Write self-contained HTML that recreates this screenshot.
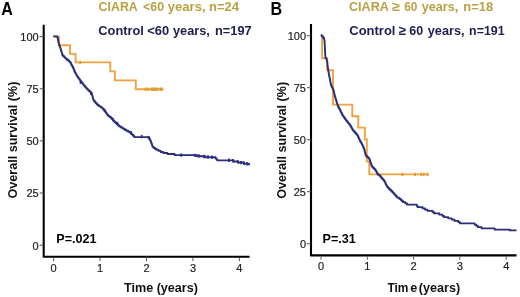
<!DOCTYPE html>
<html><head><meta charset="utf-8"><style>
html,body{margin:0;padding:0;background:#fff;width:520px;height:297px;overflow:hidden}
svg{display:block;will-change:transform}
text{font-family:"Liberation Sans",sans-serif}
.pl{font-size:17.5px;font-weight:bold;fill:#000}
.ti{font-size:13.3px;font-weight:bold}
.tk{font-size:11px;fill:#222;stroke:#222;stroke-width:0.2px}
.at{font-size:12.6px;font-weight:bold;fill:#111}
.pv{font-size:12.6px;font-weight:bold;fill:#000}
</style></head><body>
<svg width="520" height="297" viewBox="0 0 520 297">
<text transform="translate(1.3,15.2) scale(0.92,1)" class="pl">A</text>
<text y="10.5" class="ti" fill="#b8a142"><tspan x="98.61" textLength="39.12" lengthAdjust="spacingAndGlyphs">CIARA</tspan><tspan x="143.11" textLength="20.90" lengthAdjust="spacingAndGlyphs">&lt;60</tspan><tspan x="167.87" textLength="37.70" lengthAdjust="spacingAndGlyphs">years,</tspan><tspan x="209.05" textLength="30.04" lengthAdjust="spacingAndGlyphs">n=24</tspan></text>
<text y="34.8" class="ti" fill="#1d1e50"><tspan x="98.29" textLength="45.61" lengthAdjust="spacingAndGlyphs">Control</tspan><tspan x="147.18" textLength="21.95" lengthAdjust="spacingAndGlyphs">&lt;60</tspan><tspan x="172.97" textLength="36.88" lengthAdjust="spacingAndGlyphs">years,</tspan><tspan x="214.97" textLength="36.69" lengthAdjust="spacingAndGlyphs">n=197</tspan></text>
<path d="M43.7,24.7 L43.7,256.8 L249.6,256.8" fill="none" stroke="#000" stroke-width="2.1" stroke-linejoin="round"/><line x1="39.7" y1="36.6" x2="43.7" y2="36.6" stroke="#555" stroke-width="1"/><text x="38.7" y="40.90" text-anchor="end" class="tk">100</text><line x1="39.7" y1="88.75" x2="43.7" y2="88.75" stroke="#555" stroke-width="1"/><text x="38.7" y="93.05" text-anchor="end" class="tk">75</text><line x1="39.7" y1="140.9" x2="43.7" y2="140.9" stroke="#555" stroke-width="1"/><text x="38.7" y="145.20" text-anchor="end" class="tk">50</text><line x1="39.7" y1="193" x2="43.7" y2="193" stroke="#555" stroke-width="1"/><text x="38.7" y="197.30" text-anchor="end" class="tk">25</text><line x1="39.7" y1="245.2" x2="43.7" y2="245.2" stroke="#555" stroke-width="1"/><text x="38.7" y="249.50" text-anchor="end" class="tk">0</text><line x1="53.60" y1="257.8" x2="53.60" y2="261.1" stroke="#555" stroke-width="1"/><text x="53.60" y="271.80" text-anchor="middle" class="tk">0</text><line x1="100.05" y1="257.8" x2="100.05" y2="261.1" stroke="#555" stroke-width="1"/><text x="100.05" y="271.80" text-anchor="middle" class="tk">1</text><line x1="146.50" y1="257.8" x2="146.50" y2="261.1" stroke="#555" stroke-width="1"/><text x="146.50" y="271.80" text-anchor="middle" class="tk">2</text><line x1="192.95" y1="257.8" x2="192.95" y2="261.1" stroke="#555" stroke-width="1"/><text x="192.95" y="271.80" text-anchor="middle" class="tk">3</text><line x1="239.40" y1="257.8" x2="239.40" y2="261.1" stroke="#555" stroke-width="1"/><text x="239.40" y="271.80" text-anchor="middle" class="tk">4</text>
<text transform="translate(16.7,140.1) rotate(-90)" text-anchor="middle" class="at">Overall survival (%)</text>
<text x="161" y="292.4" text-anchor="middle" class="at">Time (years)</text>
<text x="56.3" y="243" class="pv">P=.021</text>
<polyline points="53.60,36.60 59.10,36.60 59.10,45.20 70.00,45.20 70.00,53.90 75.60,53.90 75.60,62.40 110.30,62.40 110.30,71.40 114.90,71.40 114.90,80.40 135.80,80.40 135.80,89.20 162.80,89.20" fill="none" stroke="#eea33e" stroke-width="1.9"/>
<line x1="80.2" y1="60.70" x2="80.2" y2="64.10" stroke="#e09a30" stroke-width="1.7"/><line x1="145.5" y1="87.50" x2="145.5" y2="90.90" stroke="#e09a30" stroke-width="1.7"/><line x1="148" y1="87.50" x2="148" y2="90.90" stroke="#e09a30" stroke-width="1.7"/><line x1="151.5" y1="87.50" x2="151.5" y2="90.90" stroke="#e09a30" stroke-width="1.7"/><line x1="153" y1="87.50" x2="153" y2="90.90" stroke="#e09a30" stroke-width="1.7"/><line x1="154.5" y1="87.50" x2="154.5" y2="90.90" stroke="#e09a30" stroke-width="1.7"/><line x1="156" y1="87.50" x2="156" y2="90.90" stroke="#e09a30" stroke-width="1.7"/><line x1="157.5" y1="87.50" x2="157.5" y2="90.90" stroke="#e09a30" stroke-width="1.7"/><line x1="160.5" y1="87.50" x2="160.5" y2="90.90" stroke="#e09a30" stroke-width="1.7"/><line x1="162.3" y1="87.50" x2="162.3" y2="90.90" stroke="#e09a30" stroke-width="1.7"/>
<polyline points="53.10,36.40 57.41,36.40 57.41,37.46 57.64,37.46 57.64,38.52 57.87,38.52 57.87,39.58 58.09,39.58 58.09,40.64 58.32,40.64 58.32,41.70 58.55,41.70 58.55,42.76 58.78,42.76 58.78,43.82 59.12,43.82 59.12,44.88 59.48,44.88 59.48,45.94 59.83,45.94 59.83,47.00 60.19,47.00 60.19,48.06 60.55,48.06 60.55,49.12 60.87,49.12 60.87,50.18 61.20,50.18 61.20,51.24 61.52,51.24 61.52,52.30 61.84,52.30 61.84,53.36 62.16,53.36 62.16,54.42 62.48,54.42 62.48,55.48 63.51,55.48 63.51,56.54 64.57,56.54 64.57,57.60 65.63,57.60 65.63,58.66 66.87,58.66 66.87,59.72 68.26,59.72 68.26,60.78 69.36,60.78 69.36,61.84 70.46,61.84 70.46,62.90 70.97,62.90 70.97,63.96 71.40,63.96 71.40,65.02 71.99,65.02 71.99,66.08 72.73,66.08 72.73,67.14 73.24,67.14 73.24,68.20 73.61,68.20 73.61,69.26 73.99,69.26 73.99,70.32 74.47,70.32 74.47,71.38 74.99,71.38 74.99,72.44 75.51,72.44 75.51,73.50 76.03,73.50 76.03,74.56 76.55,74.56 76.55,75.62 77.28,75.62 77.28,76.68 78.05,76.68 78.05,77.74 78.81,77.74 78.81,78.80 79.57,78.80 79.57,79.86 80.35,79.86 80.35,80.92 81.18,80.92 81.18,81.98 82.01,81.98 82.01,83.04 82.84,83.04 82.84,84.10 83.67,84.10 83.67,85.16 84.50,85.16 84.50,86.22 85.31,86.22 85.31,87.28 86.27,87.28 86.27,88.34 87.29,88.34 87.29,89.40 88.35,89.40 88.35,90.46 89.43,90.46 89.43,91.52 90.52,91.52 90.52,92.58 91.60,92.58 91.60,93.64 91.90,93.64 91.90,94.70 92.20,94.70 92.20,95.76 92.50,95.76 92.50,96.82 92.80,96.82 92.80,97.88 93.10,97.88 93.10,98.94 93.39,98.94 93.39,100.00 93.90,100.00 93.90,101.06 94.85,101.06 94.85,102.12 95.81,102.12 95.81,103.18 96.76,103.18 96.76,104.24 97.71,104.24 97.71,105.30 99.13,105.30 99.13,106.36 100.87,106.36 100.87,107.42 102.41,107.42 102.41,108.48 103.29,108.48 103.29,109.54 104.17,109.54 104.17,110.60 105.04,110.60 105.04,111.66 105.86,111.66 105.86,112.72 106.55,112.72 106.55,113.78 107.25,113.78 107.25,114.84 108.17,114.84 108.17,115.90 109.52,115.90 109.52,116.96 110.86,116.96 110.86,118.02 111.87,118.02 111.87,119.08 112.83,119.08 112.83,120.14 113.80,120.14 113.80,121.20 114.76,121.20 114.76,122.26 115.86,122.26 115.86,123.32 117.02,123.32 117.02,124.38 118.18,124.38 118.18,125.44 119.35,125.44 119.35,126.50 120.97,126.50 120.97,127.56 122.72,127.56 122.72,128.62 124.47,128.62 124.47,129.68 126.22,129.68 126.22,130.74 128.17,130.74 128.17,131.80 130.12,131.80 130.12,132.86 131.42,132.86 131.42,133.92 132.37,133.92 132.37,134.98 133.32,134.98 133.32,136.04 134.27,136.04 134.27,137.10 149.11,137.10 149.11,138.16 149.60,138.16 149.60,139.22 150.08,139.22 150.08,140.28 150.57,140.28 150.57,141.34 151.05,141.34 151.05,142.40 151.44,142.40 151.44,143.46 151.80,143.46 151.80,144.52 152.15,144.52 152.15,145.58 152.50,145.58 152.50,146.64 153.36,146.64 153.36,147.70 154.84,147.70 154.84,148.76 156.38,148.76 156.38,149.82 158.54,149.82 158.54,150.88 160.69,150.88 160.69,151.94 163.35,151.94 163.35,153.00 167.47,153.00 167.47,154.06 174.61,154.06 174.61,155.12 197.05,155.12 197.05,156.18 205.30,156.18 205.30,157.24 215.51,157.24 215.51,158.30 216.38,158.30 216.38,159.36 217.26,159.36 217.26,160.42 233.52,160.42 233.52,161.48 238.11,161.48 238.11,162.54 243.61,162.54 243.61,163.60 248.25,163.60 248.25,164.30 250.10,164.30" fill="none" stroke="#2b2f7a" stroke-width="1.9" stroke-linejoin="round"/>
<line x1="80.5" y1="80.60" x2="80.5" y2="84.00" stroke="#2b2f7a" stroke-width="1.7"/><line x1="91" y1="91.60" x2="91" y2="95.00" stroke="#2b2f7a" stroke-width="1.7"/><line x1="104.7" y1="108.70" x2="104.7" y2="112.10" stroke="#2b2f7a" stroke-width="1.7"/><line x1="112.8" y1="117.90" x2="112.8" y2="121.30" stroke="#2b2f7a" stroke-width="1.7"/><line x1="117.5" y1="121.90" x2="117.5" y2="125.30" stroke="#2b2f7a" stroke-width="1.7"/><line x1="131" y1="131.10" x2="131" y2="134.50" stroke="#2b2f7a" stroke-width="1.7"/><line x1="141.7" y1="134.90" x2="141.7" y2="138.30" stroke="#2b2f7a" stroke-width="1.7"/><line x1="148.5" y1="135.90" x2="148.5" y2="139.30" stroke="#2b2f7a" stroke-width="1.7"/><line x1="181.2" y1="153.30" x2="181.2" y2="156.70" stroke="#2b2f7a" stroke-width="1.7"/><line x1="195" y1="153.70" x2="195" y2="157.10" stroke="#2b2f7a" stroke-width="1.7"/><line x1="199" y1="154.20" x2="199" y2="157.60" stroke="#2b2f7a" stroke-width="1.7"/><line x1="204" y1="154.80" x2="204" y2="158.20" stroke="#2b2f7a" stroke-width="1.7"/><line x1="208" y1="155.20" x2="208" y2="158.60" stroke="#2b2f7a" stroke-width="1.7"/><line x1="212" y1="155.50" x2="212" y2="158.90" stroke="#2b2f7a" stroke-width="1.7"/><line x1="229" y1="158.60" x2="229" y2="162.00" stroke="#2b2f7a" stroke-width="1.7"/><line x1="233" y1="159.00" x2="233" y2="162.40" stroke="#2b2f7a" stroke-width="1.7"/><line x1="238" y1="160.20" x2="238" y2="163.60" stroke="#2b2f7a" stroke-width="1.7"/><line x1="241" y1="160.90" x2="241" y2="164.30" stroke="#2b2f7a" stroke-width="1.7"/><line x1="244" y1="161.60" x2="244" y2="165.00" stroke="#2b2f7a" stroke-width="1.7"/><line x1="247" y1="162.10" x2="247" y2="165.50" stroke="#2b2f7a" stroke-width="1.7"/>
<text transform="translate(270.5,15.2) scale(0.92,1)" class="pl">B</text>
<text y="10.5" class="ti" fill="#b8a142"><tspan x="349.00" textLength="39.84" lengthAdjust="spacingAndGlyphs">CIARA</tspan><tspan x="392.14" textLength="7.79" lengthAdjust="spacingAndGlyphs">≥</tspan><tspan x="404.28" textLength="13.22" lengthAdjust="spacingAndGlyphs">60</tspan><tspan x="421.77" textLength="36.57" lengthAdjust="spacingAndGlyphs">years,</tspan><tspan x="463.36" textLength="29.75" lengthAdjust="spacingAndGlyphs">n=18</tspan></text>
<text y="34.8" class="ti" fill="#1d1e50"><tspan x="349.28" textLength="46.23" lengthAdjust="spacingAndGlyphs">Control</tspan><tspan x="398.77" textLength="7.24" lengthAdjust="spacingAndGlyphs">≥</tspan><tspan x="409.36" textLength="13.86" lengthAdjust="spacingAndGlyphs">60</tspan><tspan x="427.77" textLength="36.88" lengthAdjust="spacingAndGlyphs">years,</tspan><tspan x="469.10" textLength="35.46" lengthAdjust="spacingAndGlyphs">n=191</tspan></text>
<path d="M311,24 L311,255.4 L516.5,255.4" fill="none" stroke="#000" stroke-width="2.1" stroke-linejoin="round"/><line x1="307" y1="35.7" x2="311" y2="35.7" stroke="#555" stroke-width="1"/><text x="306" y="40.00" text-anchor="end" class="tk">100</text><line x1="307" y1="87.7" x2="311" y2="87.7" stroke="#555" stroke-width="1"/><text x="306" y="92.00" text-anchor="end" class="tk">75</text><line x1="307" y1="139.7" x2="311" y2="139.7" stroke="#555" stroke-width="1"/><text x="306" y="144.00" text-anchor="end" class="tk">50</text><line x1="307" y1="191.7" x2="311" y2="191.7" stroke="#555" stroke-width="1"/><text x="306" y="196.00" text-anchor="end" class="tk">25</text><line x1="307" y1="243.7" x2="311" y2="243.7" stroke="#555" stroke-width="1"/><text x="306" y="248.00" text-anchor="end" class="tk">0</text><line x1="321.00" y1="256.4" x2="321.00" y2="259.7" stroke="#555" stroke-width="1"/><text x="321.00" y="270.40" text-anchor="middle" class="tk">0</text><line x1="367.30" y1="256.4" x2="367.30" y2="259.7" stroke="#555" stroke-width="1"/><text x="367.30" y="270.40" text-anchor="middle" class="tk">1</text><line x1="413.60" y1="256.4" x2="413.60" y2="259.7" stroke="#555" stroke-width="1"/><text x="413.60" y="270.40" text-anchor="middle" class="tk">2</text><line x1="459.90" y1="256.4" x2="459.90" y2="259.7" stroke="#555" stroke-width="1"/><text x="459.90" y="270.40" text-anchor="middle" class="tk">3</text><line x1="506.20" y1="256.4" x2="506.20" y2="259.7" stroke="#555" stroke-width="1"/><text x="506.20" y="270.40" text-anchor="middle" class="tk">4</text>
<text transform="translate(286.2,140.3) rotate(-90)" text-anchor="middle" class="at">Overall survival (%)</text>
<text y="292.4" class="at"><tspan x="387.4" textLength="21" lengthAdjust="spacingAndGlyphs">Tim</tspan><tspan x="410.2">e</tspan><tspan x="418.8">(years)</tspan></text>
<text x="322.5" y="243.4" class="pv">P=.31</text>
<polyline points="321.00,35.70 322.10,35.70 322.10,58.40 327.20,58.40 327.20,70.20 333.00,70.20 333.00,104.60 352.30,104.60 352.30,116.20 358.30,116.20 358.30,127.60 364.80,127.60 364.80,139.20 366.80,139.20 366.80,161.50 369.30,161.50 369.30,174.40 428.80,174.40" fill="none" stroke="#eea33e" stroke-width="1.9"/>
<line x1="402.5" y1="172.70" x2="402.5" y2="176.10" stroke="#e09a30" stroke-width="1.7"/><line x1="415" y1="172.70" x2="415" y2="176.10" stroke="#e09a30" stroke-width="1.7"/><line x1="421.25" y1="172.70" x2="421.25" y2="176.10" stroke="#e09a30" stroke-width="1.7"/><line x1="423.75" y1="172.70" x2="423.75" y2="176.10" stroke="#e09a30" stroke-width="1.7"/><line x1="427.5" y1="172.70" x2="427.5" y2="176.10" stroke="#e09a30" stroke-width="1.7"/>
<polyline points="320.70,35.20 321.68,35.20 321.68,36.29 322.96,36.29 322.96,37.38 323.75,37.38 323.75,38.47 324.07,38.47 324.07,39.56 324.36,39.56 324.36,40.65 324.61,40.65 324.61,41.74 324.66,41.74 324.66,42.83 324.71,42.83 324.71,43.92 324.75,43.92 324.75,45.01 324.80,45.01 324.80,46.10 324.85,46.10 324.85,47.19 324.90,47.19 324.90,48.28 324.95,48.28 324.95,49.37 325.00,49.37 325.00,50.46 325.05,50.46 325.05,51.55 325.11,51.55 325.11,52.64 325.17,52.64 325.17,53.73 325.23,53.73 325.23,54.82 325.29,54.82 325.29,55.91 325.34,55.91 325.34,57.00 325.45,57.00 325.45,58.09 326.53,58.09 326.53,59.18 326.75,59.18 326.75,60.27 326.96,60.27 326.96,61.36 327.18,61.36 327.18,62.45 327.30,62.45 327.30,63.54 327.41,63.54 327.41,64.63 327.52,64.63 327.52,65.72 327.64,65.72 327.64,66.81 327.82,66.81 327.82,67.90 328.00,67.90 328.00,68.99 328.18,68.99 328.18,70.08 328.35,70.08 328.35,71.17 328.53,71.17 328.53,72.26 328.71,72.26 328.71,73.35 328.89,73.35 328.89,74.44 329.06,74.44 329.06,75.53 329.28,75.53 329.28,76.62 329.50,76.62 329.50,77.71 329.72,77.71 329.72,78.80 329.94,78.80 329.94,79.89 330.16,79.89 330.16,80.98 330.38,80.98 330.38,82.07 330.60,82.07 330.60,83.16 330.82,83.16 330.82,84.25 331.04,84.25 331.04,85.34 331.48,85.34 331.48,86.43 332.02,86.43 332.02,87.52 332.55,87.52 332.55,88.61 333.09,88.61 333.09,89.70 333.61,89.70 333.61,90.79 333.84,90.79 333.84,91.88 334.06,91.88 334.06,92.97 334.29,92.97 334.29,94.06 334.52,94.06 334.52,95.15 334.81,95.15 334.81,96.24 335.13,96.24 335.13,97.33 335.45,97.33 335.45,98.42 335.78,98.42 335.78,99.51 336.10,99.51 336.10,100.60 336.43,100.60 336.43,101.69 336.75,101.69 336.75,102.78 337.07,102.78 337.07,103.87 337.40,103.87 337.40,104.96 337.81,104.96 337.81,106.05 338.36,106.05 338.36,107.14 338.92,107.14 338.92,108.23 339.47,108.23 339.47,109.32 340.03,109.32 340.03,110.41 340.58,110.41 340.58,111.50 341.12,111.50 341.12,112.59 341.67,112.59 341.67,113.68 342.21,113.68 342.21,114.77 342.78,114.77 342.78,115.86 343.56,115.86 343.56,116.95 344.34,116.95 344.34,118.04 345.12,118.04 345.12,119.13 345.90,119.13 345.90,120.22 346.73,120.22 346.73,121.31 347.60,121.31 347.60,122.40 348.48,122.40 348.48,123.49 349.35,123.49 349.35,124.58 350.21,124.58 350.21,125.67 350.83,125.67 350.83,126.76 351.45,126.76 351.45,127.85 352.07,127.85 352.07,128.94 352.69,128.94 352.69,130.03 353.44,130.03 353.44,131.12 354.42,131.12 354.42,132.21 355.39,132.21 355.39,133.30 356.37,133.30 356.37,134.39 357.35,134.39 357.35,135.48 357.92,135.48 357.92,136.57 358.41,136.57 358.41,137.66 358.90,137.66 358.90,138.75 359.39,138.75 359.39,139.84 359.91,139.84 359.91,140.93 360.53,140.93 360.53,142.02 361.15,142.02 361.15,143.11 361.77,143.11 361.77,144.20 362.40,144.20 362.40,145.29 362.89,145.29 362.89,146.38 363.32,146.38 363.32,147.47 363.74,147.47 363.74,148.56 364.17,148.56 364.17,149.65 364.60,149.65 364.60,150.74 364.83,150.74 364.83,151.83 365.05,151.83 365.05,152.92 365.28,152.92 365.28,154.01 365.51,154.01 365.51,155.10 366.25,155.10 366.25,156.19 367.34,156.19 367.34,157.28 368.45,157.28 368.45,158.37 369.45,158.37 369.45,159.46 369.80,159.46 369.80,160.55 370.15,160.55 370.15,161.64 370.50,161.64 370.50,162.73 370.87,162.73 370.87,163.82 371.25,163.82 371.25,164.91 371.62,164.91 371.62,166.00 372.20,166.00 372.20,167.09 373.29,167.09 373.29,168.18 374.36,168.18 374.36,169.27 375.42,169.27 375.42,170.36 376.07,170.36 376.07,171.45 376.64,171.45 376.64,172.54 377.27,172.54 377.27,173.63 377.96,173.63 377.96,174.72 379.47,174.72 379.47,175.81 380.57,175.81 380.57,176.90 381.40,176.90 381.40,177.99 382.32,177.99 382.32,179.08 383.38,179.08 383.38,180.17 384.22,180.17 384.22,181.26 384.94,181.26 384.94,182.35 385.40,182.35 385.40,183.44 385.83,183.44 385.83,184.53 386.41,184.53 386.41,185.62 387.06,185.62 387.06,186.71 387.86,186.71 387.86,187.80 388.95,187.80 388.95,188.89 390.04,188.89 390.04,189.98 391.16,189.98 391.16,191.07 392.24,191.07 392.24,192.16 393.26,192.16 393.26,193.25 394.26,193.25 394.26,194.34 395.21,194.34 395.21,195.43 396.17,195.43 396.17,196.52 397.12,196.52 397.12,197.61 399.14,197.61 399.14,198.70 400.68,198.70 400.68,199.79 401.67,199.79 401.67,200.88 403.01,200.88 403.01,202.13 405.36,202.13 405.36,203.38 407.15,203.38 407.15,204.63 416.81,204.63 416.81,205.88 417.66,205.88 417.66,207.13 422.53,207.13 422.53,208.38 425.01,208.38 425.01,209.63 427.53,209.63 427.53,210.88 432.61,210.88 432.61,212.13 434.11,212.13 434.11,213.38 439.33,213.38 439.33,214.63 442.38,214.63 442.38,215.88 444.02,215.88 444.02,217.13 448.29,217.13 448.29,218.38 451.80,218.38 451.80,219.63 454.48,219.63 454.48,220.88 458.40,220.88 458.40,222.13 460.03,222.13 460.03,223.38 474.67,223.38 474.67,224.63 476.34,224.63 476.34,225.88 478.01,225.88 478.01,227.13 481.59,227.13 481.59,228.38 494.76,228.38 494.76,229.63 509.76,229.63 509.76,230.40 516.60,230.40" fill="none" stroke="#2b2f7a" stroke-width="1.9" stroke-linejoin="round"/>
</svg>
</body></html>
